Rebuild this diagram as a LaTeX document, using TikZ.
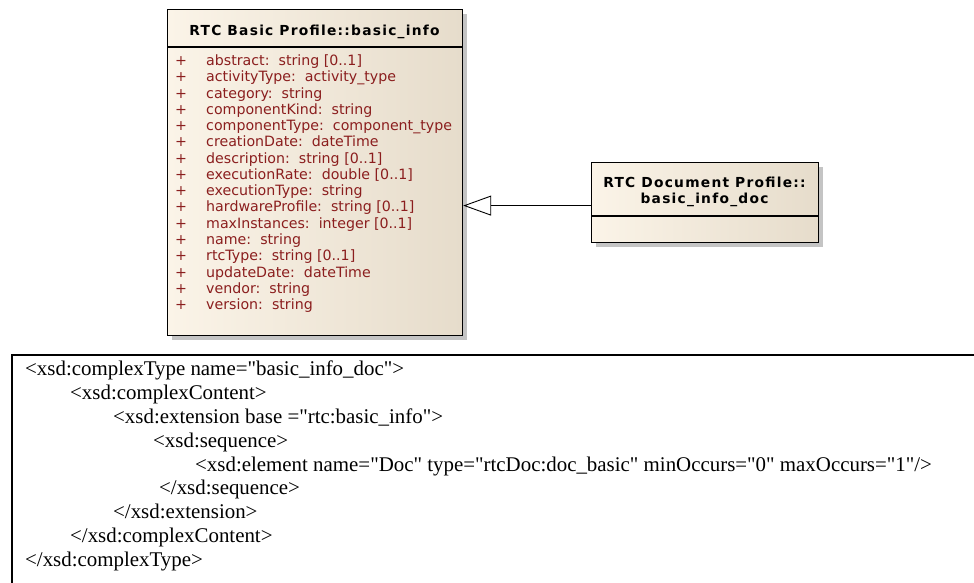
\documentclass[tikz,border=0pt]{standalone}
\usepackage{fontspec}
\setmainfont{Liberation Serif}[Ligatures=TeXOff]
\newfontfamily\umlfont{DejaVu Sans}
\newfontfamily\umltitlefont[LetterSpace=9]{DejaVu Sans}
\usepackage{tikz}
\usetikzlibrary{arrows.meta,positioning,shadows,calc}

\definecolor{umlfillL}{HTML}{FBF4E8}
\definecolor{umlfillR}{HTML}{E6DCCB}
\definecolor{attrred}{HTML}{8B1E1E}
\definecolor{shadowgray}{HTML}{C4C4C4}

\tikzset{
  classbox/.style={draw=black, line width=1.2pt, left color=umlfillL, right color=umlfillR,
    anchor=north west, inner sep=0pt,
    drop shadow={shadow xshift=4pt, shadow yshift=-4pt, fill=shadowgray, opacity=1}},
  classname/.style={font=\umltitlefont\bfseries\fontsize{13.8}{16}\selectfont, align=center, inner sep=0pt},
  attr/.style={font=\umlfont\fontsize{14.2}{16}\selectfont, text=attrred, anchor=west,
    inner sep=0pt, text height=10pt, text depth=3pt},
  codeline/.style={font=\fontsize{20.9}{24}\selectfont, anchor=west, inner sep=0pt,
    text height=14pt, text depth=4pt},
  inherit/.style={-{Triangle[open, length=28pt, width=20pt, fill=white]}, line width=0.9pt},
}

\begin{document}
\begin{tikzpicture}[x=1pt, y=-1pt]
\useasboundingbox (0,0) rectangle (974,583);

% class boxes
\node[classbox, minimum width=295pt, minimum height=326pt] (info) at (167,9) {};
\node[classname] (infoname) at (314.5,32) {RTC Basic Profile::basic\_info};
\draw[line width=1.2pt] ([yshift=-38pt]info.north west) -- ([yshift=-38pt]info.north east);

\foreach \attr [count=\i] in {{abstract:\ \ string [0..1]}, {activityType:\ \ activity\_type},
  {category:\ \ string}, {componentKind:\ \ string}, {componentType:\ \ component\_type},
  {creationDate:\ \ dateTime}, {description:\ \ string [0..1]}, {executionRate:\ \ double [0..1]},
  {executionType:\ \ string}, {hardwareProfile:\ \ string [0..1]}, {maxInstances:\ \ integer [0..1]},
  {name:\ \ string}, {rtcType:\ \ string [0..1]}, {updateDate:\ \ dateTime},
  {vendor:\ \ string}, {version:\ \ string}}
{
  \node[attr] (plus\i) at (175,{62+16.27*(\i-1)}) {+};
  \node[attr] (attr\i) at (206,{62+16.27*(\i-1)}) {\attr};
}

\node[classbox, minimum width=227pt, minimum height=80pt] (doc) at (591,162) {};
\node[classname] (docname) at (704.5,192) {RTC Document Profile::\\basic\_info\_doc};
\draw[line width=1.2pt] ([yshift=-54pt]doc.north west) -- ([yshift=-54pt]doc.north east);

% generalization
\draw[inherit] ([yshift=-3pt]doc.west) -- ([yshift=-3pt]doc.west -| info.east);

% schema listing
\draw[line width=1.5pt] (12,590) -- (12,355) -- (980,355);
\node[codeline] (code1) at (25,370) {<xsd:complexType name="basic\_info\_doc">};
\node[codeline] (code2) at (70,394) {<xsd:complexContent>};
\node[codeline] (code3) at (113,418) {<xsd:extension base ="rtc:basic\_info">};
\node[codeline] (code4) at (153,442) {<xsd:sequence>};
\node[codeline] (code5) at (195,466) {<xsd:element name="Doc" type="rtcDoc:doc\_basic" minOccurs="0" maxOccurs="1"/>};
\node[codeline] (code6) at (159,489) {</xsd:sequence>};
\node[codeline] (code7) at (113,513) {</xsd:extension>};
\node[codeline] (code8) at (70,537) {</xsd:complexContent>};
\node[codeline] (code9) at (25,561) {</xsd:complexType>};
\end{tikzpicture}
\end{document}
